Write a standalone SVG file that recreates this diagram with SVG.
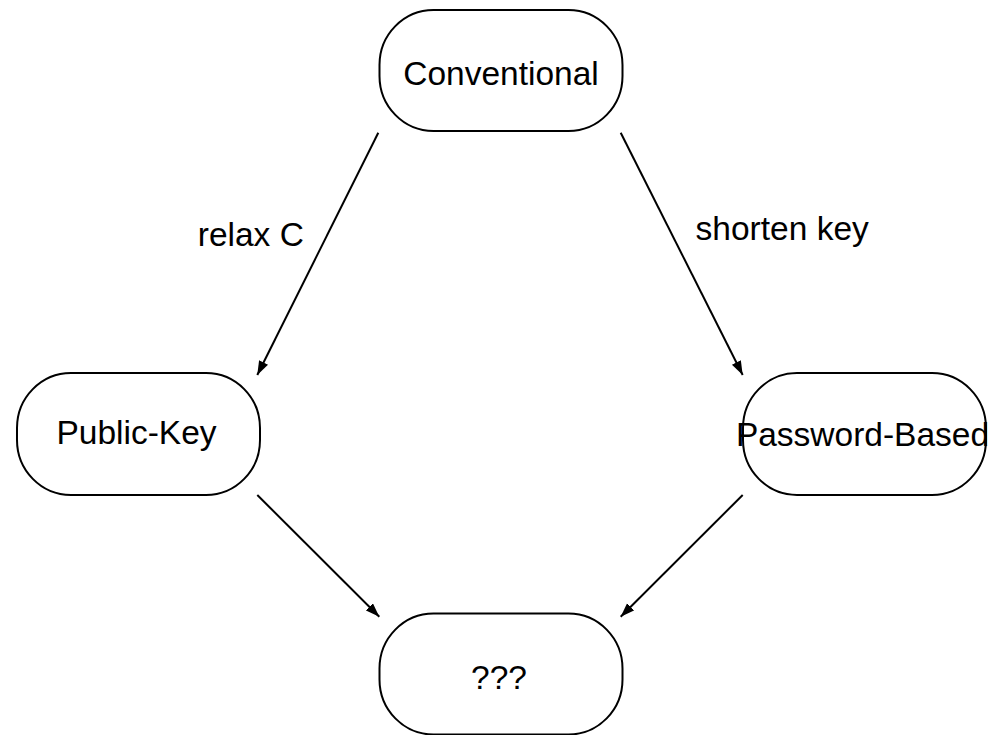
<svg xmlns="http://www.w3.org/2000/svg" width="997" height="735" viewBox="0 0 997 735">
<style>
.node rect{fill:#fff;stroke:#000;stroke-width:2}
.node text,.lbl{font-family:"Liberation Sans",Arial,sans-serif;font-size:33.5px;fill:#000;text-anchor:middle}
.edges line{stroke:#000;stroke-width:2;marker-end:url(#arr)}
</style>
<defs>
<marker id="arr" markerUnits="userSpaceOnUse" markerWidth="15" markerHeight="11" refX="14" refY="5" orient="auto">
<path d="M0,0 L14,5 L0,10 Z" fill="#000"/>
</marker>
</defs>
<rect width="997" height="735" fill="#fff"/>
<g id="n-conventional" class="node">
<rect x="379.5" y="10" width="243" height="121" rx="54" ry="55"/>
<text x="501" y="85">Conventional</text>
</g>
<g id="n-publickey" class="node">
<rect x="17" y="373" width="243" height="122" rx="54" ry="55"/>
<text x="136.5" y="443.5">Public-Key</text>
</g>
<g id="n-password" class="node">
<rect x="743" y="373" width="243" height="122" rx="54" ry="55"/>
<text x="862.5" y="445.5">Password-Based</text>
</g>
<g id="n-unknown" class="node">
<rect x="379.5" y="613.5" width="243" height="121" rx="54" ry="55"/>
<text x="499" y="689">???</text>
</g>
<g id="edges" class="edges">
<line x1="378.3" y1="132.7" x2="257.3" y2="375"/>
<line x1="620.7" y1="132.7" x2="742.7" y2="375"/>
<line x1="257.3" y1="495" x2="379.3" y2="616.7"/>
<line x1="742.7" y1="495" x2="620.7" y2="616.7"/>
<text class="lbl" x="250.8" y="246">relax C</text>
<text class="lbl" x="782.2" y="240">shorten key</text>
</g>
</svg>
